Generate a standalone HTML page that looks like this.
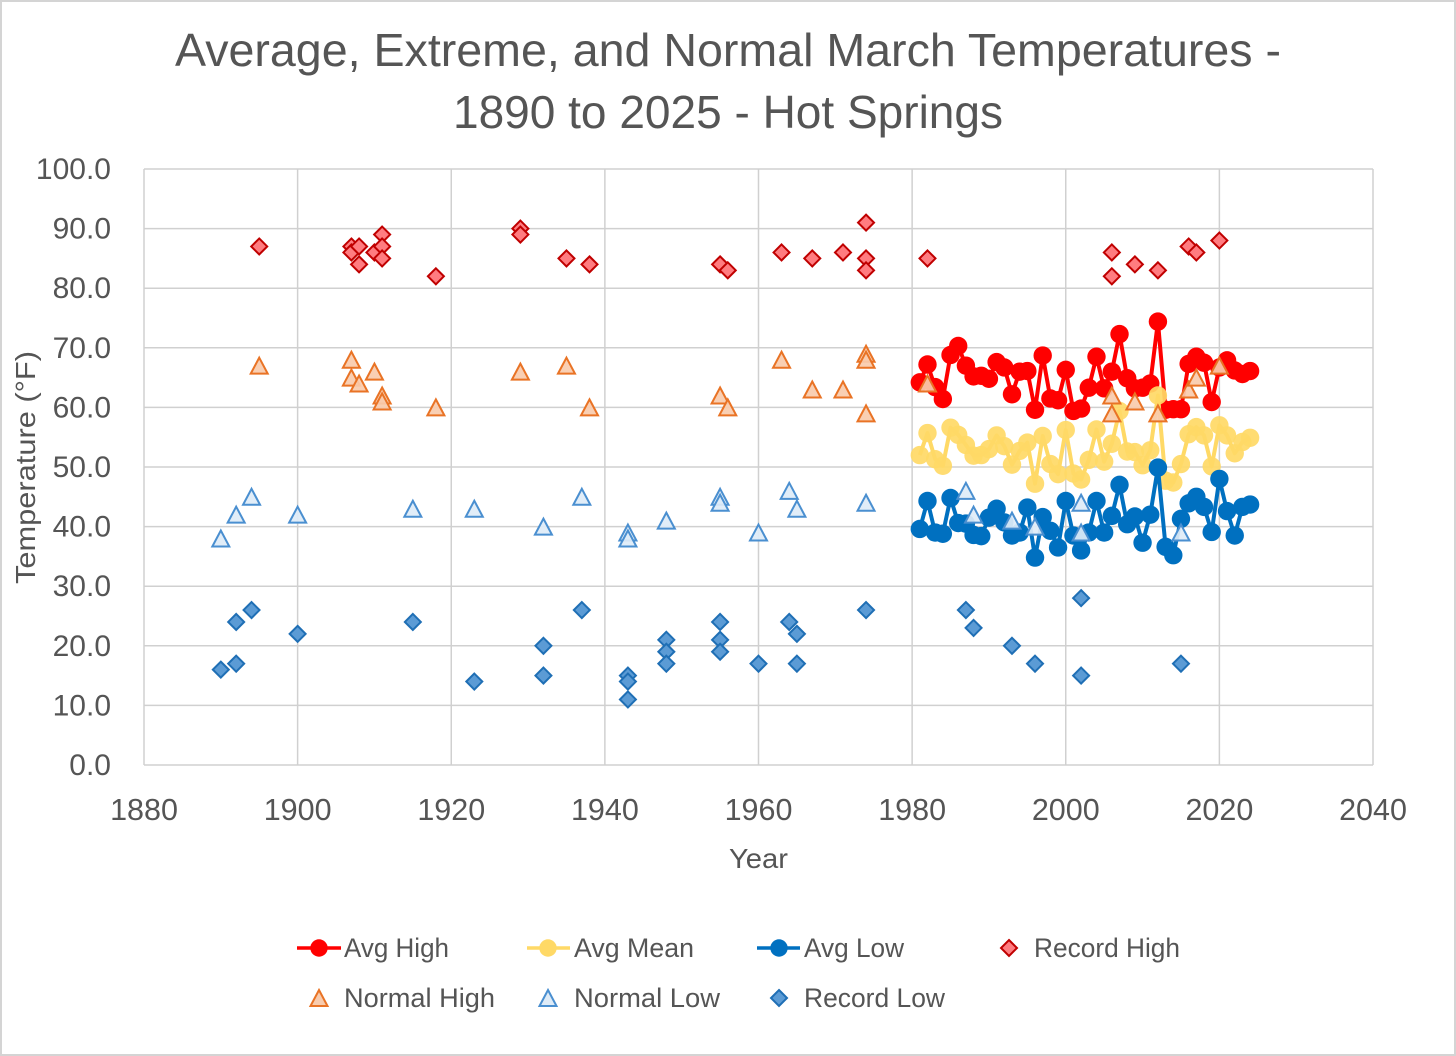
<!DOCTYPE html>
<html lang="en">
<head>
<meta charset="utf-8">
<title>Average, Extreme, and Normal March Temperatures - 1890 to 2025 - Hot Springs</title>
<style>
html,body{margin:0;padding:0;background:#fff;}
#chart{display:block;width:1456px;height:1056px;font-family:"Liberation Sans",sans-serif;}
text{fill:#555555;}
</style>
</head>
<body>
<svg id="chart" xmlns="http://www.w3.org/2000/svg" width="1456" height="1056" viewBox="0 0 1456 1056">
  <rect x="1" y="1" width="1454" height="1054" fill="#fff" stroke="#d4d4d4" stroke-width="2"/>
  <text x="175" y="66" font-size="46" textLength="1106" lengthAdjust="spacingAndGlyphs">Average, Extreme, and Normal March Temperatures -</text>
  <text x="453" y="128" font-size="46" textLength="550" lengthAdjust="spacingAndGlyphs">1890 to 2025 - Hot Springs</text>
  <g id="grid"></g>
  <g id="ticks"></g>
  <text x="729" y="868" font-size="28" textLength="59" lengthAdjust="spacingAndGlyphs">Year</text>
  <text transform="translate(35,584) rotate(-90)" font-size="28" textLength="233" lengthAdjust="spacingAndGlyphs">Temperature (°F)</text>
  <g id="marks"></g>
  <g id="legend">
    <g>
      <line x1="297" y1="948" x2="341" y2="948" stroke="#FF0000" stroke-width="3.5"/>
      <circle cx="319" cy="948" r="8.7" fill="#FF0000"/>
      <text x="344" y="957" font-size="26.5" textLength="105" lengthAdjust="spacingAndGlyphs">Avg High</text>
    </g>
    <g>
      <line x1="527" y1="948" x2="570" y2="948" stroke="#FFD966" stroke-width="3.5"/>
      <circle cx="548" cy="948" r="8.7" fill="#FFD966"/>
      <text x="574" y="957" font-size="26.5" textLength="120" lengthAdjust="spacingAndGlyphs">Avg Mean</text>
    </g>
    <g>
      <line x1="757" y1="948" x2="800" y2="948" stroke="#0070C0" stroke-width="3.5"/>
      <circle cx="779" cy="948" r="8.7" fill="#0070C0"/>
      <text x="804" y="957" font-size="26.5" textLength="100" lengthAdjust="spacingAndGlyphs">Avg Low</text>
    </g>
    <g>
      <polygon points="1009,940 1017,948 1009,956 1001,948" fill="#FF7C80" stroke="#C00000" stroke-width="2"/>
      <text x="1034" y="957" font-size="26.5" textLength="146" lengthAdjust="spacingAndGlyphs">Record High</text>
    </g>
    <g>
      <polygon points="319,990 327.5,1006 310.5,1006" fill="#F8CBAD" stroke="#E97325" stroke-width="2"/>
      <text x="344" y="1007" font-size="26.5" textLength="151" lengthAdjust="spacingAndGlyphs">Normal High</text>
    </g>
    <g>
      <polygon points="548,990 556.5,1006 539.5,1006" fill="#DEEBF7" stroke="#4A8FD0" stroke-width="2"/>
      <text x="574" y="1007" font-size="26.5" textLength="146" lengthAdjust="spacingAndGlyphs">Normal Low</text>
    </g>
    <g>
      <polygon points="779,990 787,998 779,1006 771,998" fill="#5B9BD5" stroke="#1F6FB5" stroke-width="2"/>
      <text x="804" y="1007" font-size="26.5" textLength="141" lengthAdjust="spacingAndGlyphs">Record Low</text>
    </g>
  </g>
</svg>
<script>
const xTickValues = [1880,1900,1920,1940,1960,1980,2000,2020,2040];
const yTickValues = [0,10,20,30,40,50,60,70,80,90,100];

const avgYears = [1981,1982,1983,1984,1985,1986,1987,1988,1989,1990,1991,1992,1993,1994,1995,1996,1997,1998,1999,2000,2001,2002,2003,2004,2005,2006,2007,2008,2009,2010,2011,2012,2013,2014,2015,2016,2017,2018,2019,2020,2021,2022,2023,2024];
const avgHigh = [64.2,67.2,63.4,61.4,68.8,70.3,67,65.2,65.3,64.8,67.6,66.7,62.2,66,66.1,59.6,68.7,61.5,61.2,66.3,59.4,59.8,63.3,68.5,63.2,66,72.3,64.9,63.2,63.3,64,74.4,59.6,59.7,59.7,67.3,68.5,67.5,60.9,66.7,67.9,66.2,65.6,66.1];
const avgMean = [52,55.7,51.3,50.2,56.6,55.4,53.7,51.9,52,53,55.3,53.5,50.4,52.7,54.1,47.2,55.2,50.5,48.8,56.2,48.9,47.9,51.2,56.3,50.9,53.9,59.4,52.6,52.5,50.3,52.8,62,47.7,47.4,50.5,55.5,56.7,55.3,50.1,57,55.3,52.3,54.2,54.9];
const avgLow = [39.6,44.3,39,38.8,44.8,40.6,40.5,38.6,38.4,41.5,43,40.7,38.5,39,43.2,34.8,41.6,39.3,36.5,44.3,38.5,36,39,44.3,39,41.8,47,40.4,41.7,37.3,42,49.9,36.6,35.2,41.3,43.9,45,43.3,39.1,48,42.6,38.5,43.3,43.7];

const recordHighYears = [1895,1907,1907,1908,1908,1910,1911,1911,1911,1918,1929,1929,1935,1938,1955,1956,1963,1967,1971,1974,1974,1974,1982,2006,2006,2009,2012,2016,2017,2020];
const recordHighValues = [87,87,86,87,84,86,89,87,85,82,90,89,85,84,84,83,86,85,86,91,85,83,85,86,82,84,83,87,86,88];

const normalHighYears = [1895,1907,1907,1908,1910,1911,1911,1918,1929,1935,1938,1955,1956,1963,1967,1971,1974,1974,1974,1982,2006,2006,2009,2012,2016,2017,2020];
const normalHighValues = [67,68,65,64,66,62,61,60,66,67,60,62,60,68,63,63,69,68,59,64,62,59,61,59,63,65,67];

const normalLowYears = [1890,1892,1894,1900,1915,1923,1932,1937,1943,1943,1948,1955,1955,1960,1964,1965,1974,1987,1988,1993,1996,2002,2002,2015];
const normalLowValues = [38,42,45,42,43,43,40,45,39,38,41,45,44,39,46,43,44,46,42,41,40,44,39,39];

const recordLowYears = [1890,1892,1892,1894,1900,1915,1923,1932,1932,1937,1943,1943,1943,1948,1948,1948,1955,1955,1955,1960,1964,1965,1965,1974,1987,1988,1993,1996,2002,2002,2015];
const recordLowValues = [16,24,17,26,22,24,14,20,15,26,15,14,11,21,19,17,24,21,19,17,24,22,17,26,26,23,20,17,28,15,17];

const NS = 'http://www.w3.org/2000/svg';
const xScale = v => 144 + (v - 1880) * (1373 - 144) / 160;
const yScale = v => 765 - v * (765 - 169) / 100;

function make(tag, attrs, parent) {
  const el = document.createElementNS(NS, tag);
  for (const k in attrs) el.setAttribute(k, attrs[k]);
  parent.appendChild(el);
  return el;
}

const grid = document.getElementById('grid');
const ticks = document.getElementById('ticks');
const marks = document.getElementById('marks');

yTickValues.forEach(v => {
  const line = make('line', {x1: 144, x2: 1373, y1: yScale(v), y2: yScale(v), stroke: '#D0D0D0', 'stroke-width': 1.5}, grid);
  
  
  const label = make('text', {x: 111, y: yScale(v) + 10, 'font-size': 30, 'text-anchor': 'end'}, ticks);
  
  
  label.textContent = v.toFixed(1);
});
xTickValues.forEach(v => {
  const line = make('line', {x1: xScale(v), x2: xScale(v), y1: 169, y2: 765, stroke: '#D0D0D0', 'stroke-width': 1.5}, grid);
  
  
  const label = make('text', {x: xScale(v), y: 820, 'font-size': 30.5, 'text-anchor': 'middle'}, ticks);
  
  
  label.textContent = v;
});

function drawLineSeries(values, color, opacity, seriesName) {
  const g = make('g', {}, marks);
  
  
  const pts = avgYears.map((y, i) => xScale(y) + ',' + yScale(values[i])).join(' ');
  const line = make('polyline', {points: pts, fill: 'none', stroke: color, 'stroke-width': 4, 'stroke-linejoin': 'round'}, g);
  
  
  avgYears.forEach((y, i) => {
    const dot = make('circle', {cx: xScale(y), cy: yScale(values[i]), r: 9.2, fill: color, 'fill-opacity': opacity}, g);
    
    
  });
}

function drawDiamonds(years, values, fill, stroke, seriesName) {
  const g = make('g', {}, marks);
  
  
  years.forEach((y, i) => {
    const cx = xScale(y), cy = yScale(values[i]), r = 8;
    const p = make('polygon', {points: [cx, cy - r, cx + r, cy, cx, cy + r, cx - r, cy].join(' '), fill: fill, stroke: stroke, 'stroke-width': 2}, g);
    
    
  });
}

function drawTriangles(years, values, fill, stroke, seriesName) {
  const g = make('g', {}, marks);
  
  
  years.forEach((y, i) => {
    const cx = xScale(y), cy = yScale(values[i]), r = 8;
    const p = make('polygon', {points: [cx, cy - r, cx + r + 0.5, cy + r, cx - r - 0.5, cy + r].join(' '), fill: fill, 'fill-opacity': 0.92, stroke: stroke, 'stroke-width': 2}, g);
    
    
  });
}

drawLineSeries(avgHigh, '#FF0000', 1, 'avg-high');
drawLineSeries(avgMean, '#FFD966', 0.92, 'avg-mean');
drawLineSeries(avgLow, '#0070C0', 1, 'avg-low');
drawDiamonds(recordHighYears, recordHighValues, '#FF7C80', '#C00000', 'record-high');
drawTriangles(normalHighYears, normalHighValues, '#F8CBAD', '#E97325', 'normal-high');
drawTriangles(normalLowYears, normalLowValues, '#DEEBF7', '#4A8FD0', 'normal-low');
drawDiamonds(recordLowYears, recordLowValues, '#5B9BD5', '#1F6FB5', 'record-low');
</script>
</body>
</html>
